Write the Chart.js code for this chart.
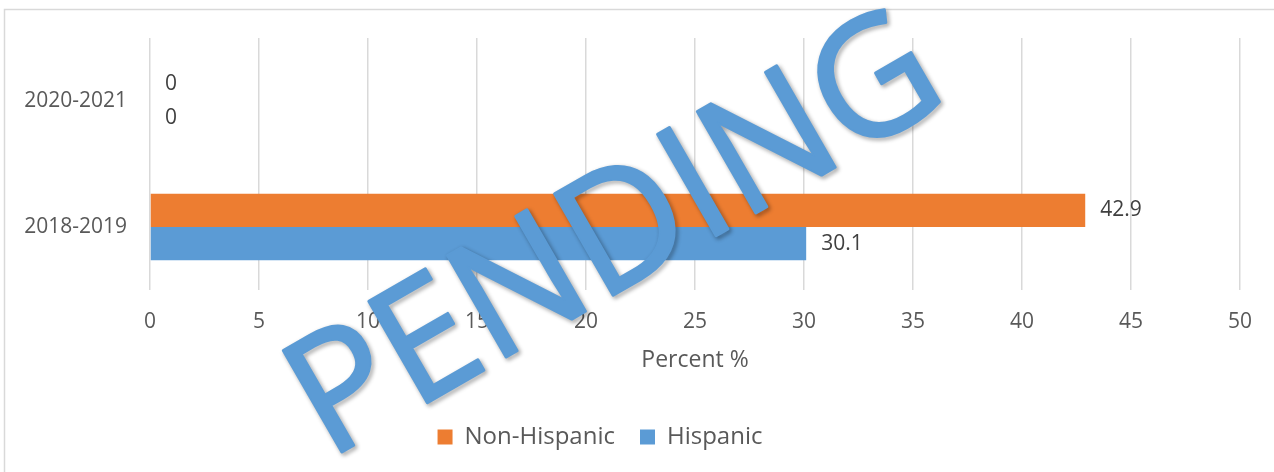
<!DOCTYPE html>
<html>
<head>
<meta charset="utf-8">
<script src="https://cdn.jsdelivr.net/npm/chart.js@4"></script>
<style>
  html, body { margin: 0; padding: 0; background: #ffffff; }
  #wrap { position: absolute; left: 0; top: 0; width: 1274px; height: 472px; }
</style>
</head>
<body>
<div id="wrap"><canvas id="c" width="1274" height="472"></canvas></div>
<script>
const categories = ['2020-2021', '2018-2019'];
const nonHispanic = [0, 42.9];
const hispanic = [0, 30.1];
const seriesNames = ['Non-Hispanic', 'Hispanic'];
const xTicks = [0, 5, 10, 15, 20, 25, 30, 35, 40, 45, 50];
const axisTitle = 'Percent %';
const watermark = 'PENDING';

const FONT = "'Open Sans', 'Noto Sans', sans-serif";

const frame = {
  id: 'frame',
  beforeDraw(chart) {
    const ctx = chart.ctx;
    ctx.save();
    ctx.fillStyle = '#ffffff';
    ctx.fillRect(0, 0, chart.width, chart.height);
    ctx.strokeStyle = '#D9D9D9';
    ctx.lineWidth = 1.5;
    ctx.strokeRect(4.5, 9.5, 1400, 600);
    ctx.restore();
  }
};

const legendShift = {
  id: 'legendShift',
  afterLayout(chart) {
    if (chart.legend) { chart.legend.left -= 20; chart.legend.right -= 20; }
  }
};

const valueLabels = {
  id: 'valueLabels',
  afterDatasetsDraw(chart) {
    const ctx = chart.ctx;
    ctx.save();
    ctx.font = '21px ' + FONT;
    ctx.fillStyle = '#404040';
    ctx.textAlign = 'left';
    ctx.textBaseline = 'middle';
    chart.data.datasets.forEach((ds, i) => {
      const meta = chart.getDatasetMeta(i);
      meta.data.forEach((el, j) => {
        ctx.fillText(String(ds.data[j]), el.x + 15, el.y);
      });
    });
    ctx.restore();
  }
};

const wm = {
  id: 'wm',
  afterDraw(chart) {
    const ctx = chart.ctx;
    ctx.save();
    ctx.translate(328, 460);
    ctx.rotate(-30 * Math.PI / 180);
    ctx.font = '164px ' + FONT;
    ctx.textAlign = 'left';
    ctx.textBaseline = 'alphabetic';
    ctx.lineJoin = 'round';
    ctx.shadowColor = 'rgba(0,0,0,0.45)';
    ctx.shadowBlur = 4;
    ctx.shadowOffsetX = 2;
    ctx.shadowOffsetY = 2;
    ctx.fillStyle = '#5B9BD5';
    ctx.strokeStyle = '#5B9BD5';
    ctx.lineWidth = 3;
    ctx.strokeText(watermark, 0, 0);
    ctx.shadowColor = 'rgba(0,0,0,0)';
    ctx.fillText(watermark, 0, 0);
    ctx.restore();
  }
};

new Chart(document.getElementById('c'), {
  type: 'bar',
  data: {
    labels: categories,
    datasets: [
      { label: seriesNames[0], data: nonHispanic, backgroundColor: '#ED7D31', borderWidth: 0,
        categoryPercentage: 0.528, barPercentage: 1 },
      { label: seriesNames[1], data: hispanic, backgroundColor: '#5B9BD5', borderWidth: 0,
        categoryPercentage: 0.528, barPercentage: 1 }
    ]
  },
  options: {
    indexAxis: 'y',
    responsive: false,
    animation: false,
    devicePixelRatio: 1,
    layout: { padding: { left: 0, top: 38, right: 34, bottom: 13 } },
    scales: {
      x: {
        type: 'linear', min: 0, max: 50,
        afterBuildTicks(scale) { scale.ticks = xTicks.map(v => ({ value: v })); },
        afterFit(scale) { scale.height = 110; },
        grid: { color: '#D9D9D9', lineWidth: 1.5, drawTicks: false },
        border: { display: false },
        ticks: { color: '#595959', font: { family: FONT, size: 21 }, padding: 19 },
        title: { display: true, text: axisTitle, color: '#595959',
                 font: { family: FONT, size: 23 }, padding: { top: 0, bottom: 26 } }
      },
      y: {
        afterFit(scale) { scale.width = 150; },
        grid: { display: false },
        border: { display: false },
        ticks: { color: '#595959', font: { family: FONT, size: 21 }, padding: 15 }
      }
    },
    plugins: {
      legend: {
        position: 'bottom',
        labels: { boxWidth: 15, boxHeight: 15, padding: 25, color: '#595959',
                  font: { family: FONT, size: 24 } }
      },
      tooltip: { enabled: false },
      title: { display: false }
    }
  },
  plugins: [frame, legendShift, valueLabels, wm]
});
</script>
</body>
</html>
